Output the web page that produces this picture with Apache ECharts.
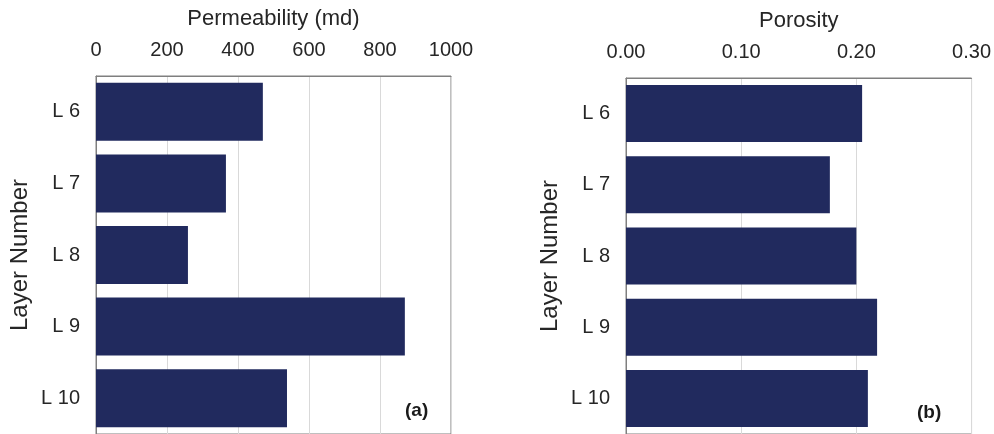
<!DOCTYPE html>
<html>
<head>
<meta charset="utf-8">
<script src="https://cdn.jsdelivr.net/npm/echarts@6/dist/echarts.min.js"></script>
<style>
  html, body { margin: 0; padding: 0; background: #ffffff; }
  #chart { width: 994px; height: 434px; }
</style>
</head>
<body>
<div id="chart"></div>
<script>
// Layer categories (top to bottom)
const layers = ['L 6', 'L 7', 'L 8', 'L 9', 'L 10'];
// Permeability per layer, md
const permeability = [470, 366, 259, 870, 538];
// Porosity per layer, fraction
const porosity = [0.205, 0.177, 0.200, 0.218, 0.210];
// Axis ranges
const permAxis = { min: 0, max: 1000, interval: 200 };
const poroAxis = { min: 0, max: 0.30, interval: 0.10 };

const FONT = 'Liberation Sans, Arial, sans-serif';
const BAR = '#212a5e';
const TEXT = '#262626';

const chart = echarts.init(document.getElementById('chart'), null, { renderer: 'canvas' });

function valueAxis(gridIndex, name, range, fmt) {
  return {
    type: 'value',
    gridIndex: gridIndex,
    position: 'top',
    min: range.min,
    max: range.max,
    interval: range.interval,
    name: name,
    nameLocation: 'middle',
    nameGap: 46,
    nameTextStyle: { fontFamily: FONT, fontSize: 22, color: TEXT },
    axisLine: { show: true, lineStyle: { color: '#7f7f7f', width: 1 } },
    axisTick: { show: false },
    axisLabel: { fontFamily: FONT, fontSize: 20, color: TEXT, margin: 16, formatter: fmt },
    splitLine: { show: true, lineStyle: { color: '#d9d9d9', width: 1 } }
  };
}

function categoryAxis(gridIndex) {
  return {
    type: 'category',
    gridIndex: gridIndex,
    data: layers,
    inverse: true,
    name: 'Layer Number',
    nameLocation: 'middle',
    nameGap: 64,
    nameRotate: 90,
    nameTextStyle: { fontFamily: FONT, fontSize: 24, color: TEXT },
    axisLine: { show: true, lineStyle: { color: '#7f7f7f', width: 1 } },
    axisTick: { show: false },
    axisLabel: { fontFamily: FONT, fontSize: 20, color: TEXT, margin: 16 },
    splitLine: { show: false }
  };
}

chart.setOption({
  animation: false,
  backgroundColor: '#ffffff',
  grid: [
    { left: 96, top: 76, width: 355, height: 360, show: true, borderColor: '#7f7f7f', borderWidth: 1, containLabel: false },
    { left: 626, top: 78, width: 346, height: 359, show: true, borderColor: '#7f7f7f', borderWidth: 1, containLabel: false }
  ],
  xAxis: [
    valueAxis(0, 'Permeability (md)', permAxis, v => String(v)),
    valueAxis(1, 'Porosity', poroAxis, v => v.toFixed(2))
  ],
  yAxis: [categoryAxis(0), categoryAxis(1)],
  series: [
    {
      type: 'bar', xAxisIndex: 0, yAxisIndex: 0, data: permeability,
      barCategoryGap: '19%', itemStyle: { color: BAR }
    },
    {
      type: 'bar', xAxisIndex: 1, yAxisIndex: 1, data: porosity,
      barCategoryGap: '20%', itemStyle: { color: BAR }
    }
  ],
  graphic: [
    { type: 'text', left: 405, top: 401, style: { text: '(a)', font: 'bold 19px ' + FONT, fill: '#1a1a1a' } },
    { type: 'text', left: 917, top: 403, style: { text: '(b)', font: 'bold 19px ' + FONT, fill: '#1a1a1a' } }
  ]
});
</script>
</body>
</html>
